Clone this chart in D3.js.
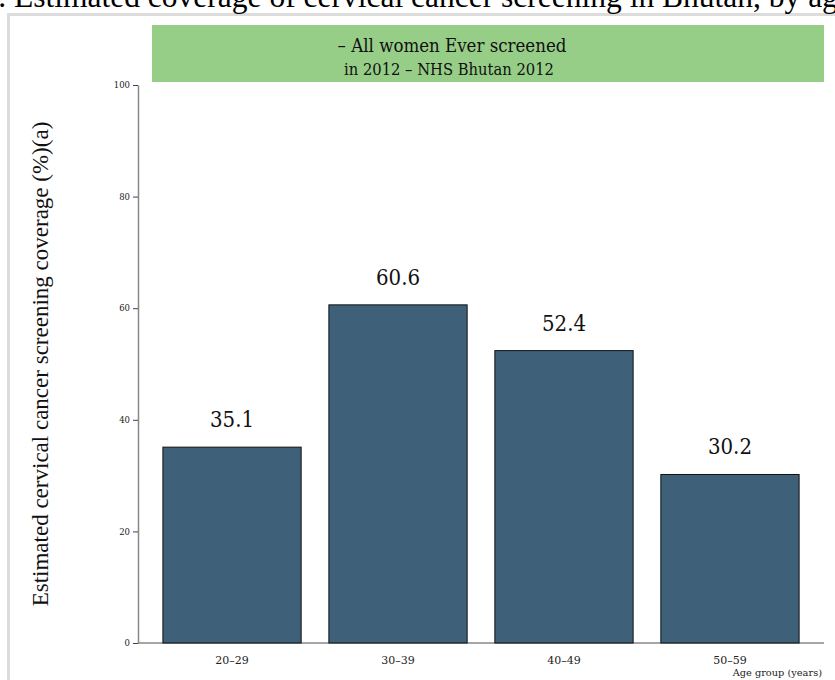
<!DOCTYPE html>
<html><head><meta charset="utf-8">
<script src="https://cdn.jsdelivr.net/npm/d3@7"></script>
<style>body{margin:0;background:#fff;} svg{display:block;}</style>
</head><body>
<svg id="chart" width="835" height="680"></svg>
<script>
const categories = ["20\u201329", "30\u201339", "40\u201349", "50\u201359"];
const values = [35.1, 60.6, 52.4, 30.2];
const yTicks = [0, 20, 40, 60, 80, 100];
const titleText = "Figure 1. Estimated coverage of cervical cancer screening in Bhutan, by age group";
const titlePrefix = "Figure 1";
const boxLine1 = "\u2013 All women Ever screened";
const boxLine2 = "in 2012 \u2013 NHS Bhutan 2012";
const yLabel = "Estimated cervical cancer screening coverage (%)(a)";
const xLabel = "Age group (years)";

const svg = d3.select("#chart");
const serif = "'DejaVu Serif', serif";
const times = "'Liberation Serif', 'Times New Roman', serif";

// frame
svg.append("rect").attr("x", 8.5).attr("y", 14.5).attr("width", 900).attr("height", 800)
  .attr("fill", "none").attr("stroke", "#dcdcdc").attr("stroke-width", 3);

// title (clipped at the edges like the reference)
const t = svg.append("text").attr("y", 7).attr("font-family", times).attr("font-size", 31.5)
  .attr("fill", "#000").text(titleText);
const preLen = t.node().getSubStringLength(0, titlePrefix.length + 2);
t.attr("x", 14 - preLen);

const x = d3.scaleBand().domain(categories).range([138, 824]).paddingInner(0.167).paddingOuter(0.15);
const y = d3.scaleLinear().domain([0, 100]).range([643, 85]);

// green box
svg.append("rect").attr("x", 152).attr("y", 25).attr("width", 672).attr("height", 57).attr("fill", "#96cd87");
svg.append("text").attr("x", 452).attr("y", 52).attr("text-anchor", "middle")
  .attr("font-family", serif).style("font-stretch", "condensed").attr("font-size", 18.5).attr("fill", "#111").text(boxLine1);
svg.append("text").attr("x", 449).attr("y", 75).attr("text-anchor", "middle")
  .attr("font-family", serif).style("font-stretch", "condensed").attr("font-size", 16.4).attr("fill", "#111").text(boxLine2);

// x baseline
svg.append("line").attr("x1", 138).attr("x2", 824).attr("y1", y(0)).attr("y2", y(0))
  .attr("stroke", "#888").attr("stroke-width", 1.5);

// bars
svg.selectAll("rect.bar").data(values).enter().append("rect").attr("class", "bar")
  .attr("x", (d, i) => x(categories[i])).attr("width", x.bandwidth())
  .attr("y", d => y(d)).attr("height", d => y(0) - y(d))
  .attr("fill", "#3e6079").attr("stroke", "#111").attr("stroke-width", 1);

svg.selectAll("text.val").data(values).enter().append("text").attr("class", "val")
  .attr("x", (d, i) => x(categories[i]) + x.bandwidth() / 2).attr("y", d => y(d) - 20)
  .attr("text-anchor", "middle").attr("font-family", serif).style("font-stretch", "condensed")
  .attr("font-size", 22).attr("fill", "#111")
  .text(d => d.toFixed(1));

// y axis
const ya = svg.append("g").attr("transform", "translate(138,0)")
  .call(d3.axisLeft(y).tickValues(yTicks).tickSize(5).tickSizeOuter(0));
ya.select(".domain").attr("stroke", "#888").attr("stroke-width", 1.5);
ya.selectAll(".tick line").attr("stroke", "#444");
ya.selectAll(".tick text").attr("font-family", serif).attr("font-size", 8.5).attr("fill", "#222");

// x axis labels
const xa = svg.append("g").attr("transform", `translate(0,${y(0)})`)
  .call(d3.axisBottom(x).tickSize(0));
xa.select(".domain").remove();
xa.selectAll(".tick text").attr("font-family", serif).attr("font-size", 11).attr("fill", "#222")
  .attr("dy", null).attr("y", 21);

svg.append("text").attr("x", 822).attr("y", 676).attr("text-anchor", "end")
  .attr("font-family", serif).attr("font-size", 9.8).attr("fill", "#222").text(xLabel);

svg.append("text").attr("transform", `translate(48,${(y(0) + y(100)) / 2}) rotate(-90)`)
  .attr("text-anchor", "middle").attr("font-family", times).attr("font-size", 23).attr("fill", "#111")
  .text(yLabel);
</script>
</body></html>
